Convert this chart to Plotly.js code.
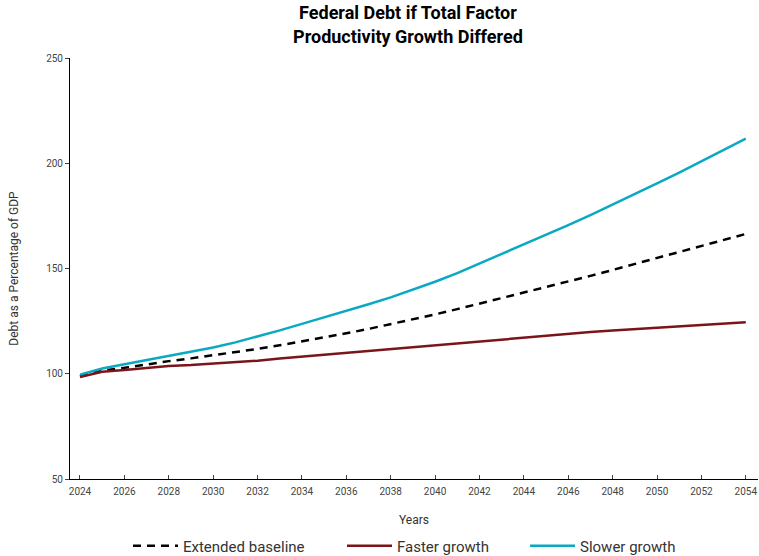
<!DOCTYPE html>
<html>
<head>
<meta charset="utf-8">
<script src="https://cdn.plot.ly/plotly-3.0.1.min.js"></script>
<style>html,body{margin:0;padding:0;background:#fff;}#chart{width:759px;height:556px;}</style>
</head>
<body>
<div id="chart"></div>
<script>
const years = [2024,2025,2026,2027,2028,2029,2030,2031,2032,2033,2034,2035,2036,2037,2038,2039,2040,2041,2042,2043,2044,2045,2046,2047,2048,2049,2050,2051,2052,2053,2054];
const extendedBaseline = [98.8,101.5,102.8,104.5,106.0,107.3,108.7,110.2,111.8,113.5,115.3,117.2,119.2,121.3,123.5,125.8,128.2,130.7,133.3,135.8,138.4,141.0,143.7,146.5,149.3,152.2,155.1,158.0,160.9,163.7,166.4];
const fasterGrowth = [98.5,100.9,101.8,102.6,103.7,104.1,104.7,105.4,106.2,107.2,108.1,109.0,109.9,110.8,111.7,112.6,113.5,114.5,115.5,116.5,117.4,118.2,119.0,119.8,120.6,121.3,122.0,122.7,123.3,123.9,124.5];
const slowerGrowth = [99.6,102.5,104.5,106.5,108.8,110.5,112.5,114.9,117.6,120.6,123.7,126.7,129.8,133.0,136.3,139.9,143.7,147.8,152.3,157.0,161.5,166.0,170.6,175.4,180.3,185.3,190.4,195.6,200.9,206.3,211.7];
const xTickVals = [2024,2026,2028,2030,2032,2034,2036,2038,2040,2042,2044,2046,2048,2050,2052,2054];
const xTickText = ["2024","2026","2028","2030","2032","2034","2036","2038","2040","2042","2044","2046","2048","2050","2052","2054"];
const yTickVals = [50,100,150,200,250];
const seriesNames = ["Extended baseline","Faster growth","Slower growth"];

const traces = [
  {x: years, y: extendedBaseline, name: seriesNames[0], type: 'scatter', mode: 'lines',
   line: {color: '#000000', width: 2.5, dash: '8px,6px'}, legend: 'legend'},
  {x: years, y: fasterGrowth, name: seriesNames[1], type: 'scatter', mode: 'lines',
   line: {color: '#7b1519', width: 2.5}, legend: 'legend2'},
  {x: years, y: slowerGrowth, name: seriesNames[2], type: 'scatter', mode: 'lines',
   line: {color: '#0aa9c2', width: 2.5}, legend: 'legend3'}
];

function legendAt(px) {
  return {
    orientation: 'h',
    xref: 'container', yref: 'container',
    x: px / 759, xanchor: 'left',
    y: 0.018, yanchor: 'middle',
    font: {family: 'Roboto, sans-serif', size: 15, color: '#333'},
    itemwidth: 45,
    bgcolor: 'rgba(0,0,0,0)'
  };
}

const layout = {
  width: 759, height: 556,
  margin: {l: 70, r: 1, t: 58, b: 77},
  paper_bgcolor: '#ffffff', plot_bgcolor: '#ffffff',
  font: {family: 'Roboto, sans-serif', color: '#444'},
  title: {
    text: '<b>Federal Debt if Total Factor<br>Productivity Growth Differed</b>',
    font: {family: 'Roboto, sans-serif', size: 18, color: '#000'},
    x: 0.5375, xref: 'container', xanchor: 'center',
    y: 0.9656, yref: 'container', yanchor: 'top'
  },
  xaxis: {
    range: [2023.55, 2054.55],
    tickvals: xTickVals, ticktext: xTickText,
    showgrid: false, zeroline: false,
    showline: true, linecolor: '#000', linewidth: 1,
    ticks: 'inside', ticklen: 4, tickcolor: '#444',
    ticklabelstandoff: 3,
    tickfont: {size: 10, color: '#444'},
    title: {text: 'Years', font: {size: 12, color: '#333'}, standoff: 19}
  },
  yaxis: {
    range: [50, 250],
    tickvals: yTickVals,
    showgrid: false, zeroline: false,
    showline: true, linecolor: '#000', linewidth: 1,
    ticks: 'outside', ticklen: 4, tickcolor: '#444',
    tickfont: {size: 10, color: '#444'},
    title: {text: 'Debt as a Percentage of GDP', font: {size: 12, color: '#333'}, standoff: 24}
  },
  showlegend: true,
  legend: legendAt(128),
  legend2: legendAt(342),
  legend3: legendAt(525)
};

Plotly.newPlot('chart', traces, layout, {displayModeBar: false, staticPlot: true});
</script>
</body>
</html>
